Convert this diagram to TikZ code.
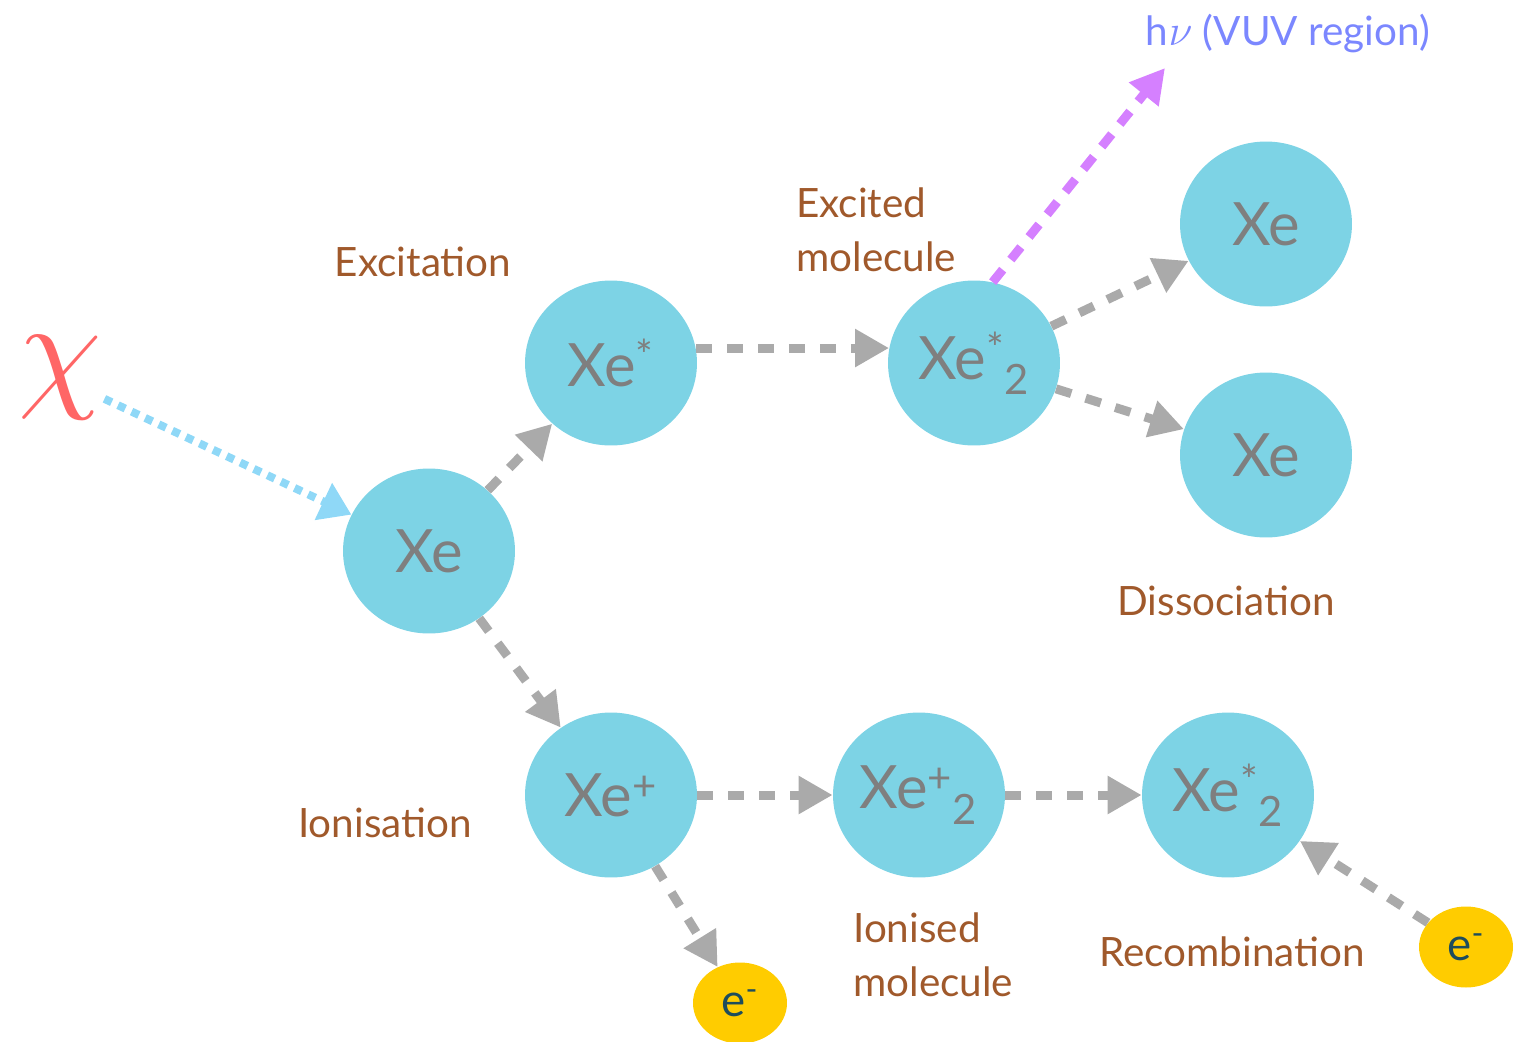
\documentclass[tikz,border=0pt]{standalone}
\usepackage{fontspec}
\setmainfont{Lato}
\usepackage{xcolor}
\usepackage{tikz}
\usetikzlibrary{arrows.meta,positioning,shapes.geometric}
\definecolor{atomcyan}{HTML}{7DD3E5}
\definecolor{atomgrey}{HTML}{7F7F7F}
\definecolor{edgegrey}{HTML}{AAAAAA}
\definecolor{labelbrown}{HTML}{A0592B}
\definecolor{photonviolet}{HTML}{D580FF}
\definecolor{hvblue}{HTML}{7B87FF}
\definecolor{chired}{HTML}{FF6666}
\definecolor{dotblue}{HTML}{8FD8F7}
\definecolor{eyellow}{HTML}{FFCC00}
\definecolor{eteal}{HTML}{1E4D5C}

\begin{document}
\begin{tikzpicture}[
  x=0.02cm, y=-0.02cm,
  atomnode/.style={ellipse, fill=atomcyan, text=atomgrey, inner sep=0pt,
    minimum width=3.44cm, minimum height=3.3cm,
    font=\fontsize{34}{40}\selectfont},
  electronnode/.style={ellipse, fill=eyellow, text=eteal, inner sep=0pt,
    minimum width=1.88cm, minimum height=1.62cm,
    font=\fontsize{26}{30}\selectfont},
  processlabel/.style={text=labelbrown, inner sep=0pt, align=left,
    font=\fontsize{23}{30.6}\selectfont},
  decayedge/.style={-{Triangle[length=0.68cm, width=0.72cm]}, edgegrey,
    line width=0.18cm, dash pattern=on 0.32cm off 0.3cm},
  photonedge/.style={-{Triangle[length=0.68cm, width=0.72cm]}, photonviolet,
    line width=0.18cm, dash pattern=on 0.32cm off 0.26cm},
  incomingedge/.style={-{Triangle[length=0.62cm, width=0.78cm]}, dotblue,
    line width=0.16cm, dash pattern=on 0.16cm off 0.14cm}
]
\useasboundingbox (0,0) rectangle (1526,1042);
% ---------------- atoms and molecules ----------------
\node[atomnode] (xe) at (429,551) {Xe};
\node[atomnode] (xestar) at (611,363) {Xe\textsuperscript{*}};
\node[atomnode] (xedimer) at (974,363) {Xe\textsuperscript{*}\textsubscript{2}};
\node[atomnode] (xetop) at (1266,224) {Xe};
\node[atomnode] (xemid) at (1266,455) {Xe};
\node[atomnode] (xeplus) at (611,795) {Xe\textsuperscript{+}};
\node[atomnode] (xeplusdimer) at (919,795) {Xe\textsuperscript{+}\textsubscript{2}};
\node[atomnode] (xestarbot) at (1228,795) {Xe\textsuperscript{*}\textsubscript{2}};
\node[electronnode] (ebot) at (740,1003) {e\textsuperscript{-}};
\node[electronnode] (eright) at (1466,947) {e\textsuperscript{-}};
% ---------------- incoming particle and photon ----------------
\node[text=chired, inner sep=0pt, scale=7.6] (chi) at (60,378) {$\chi$};
\node[text=hvblue, inner sep=0pt, font=\fontsize{23}{27}\selectfont] (hv) at (1288,34) {h$\nu$ (VUV region)};
\coordinate (photonend) at (1165,68);
% ---------------- process labels ----------------
\node[processlabel] (excitation) at (423,262) {Excitation};
\node[processlabel, anchor=west] (excited) at (796,230) {Excited\\molecule};
\node[processlabel] (dissociation) at (1226,601) {Dissociation};
\node[processlabel] (ionisation) at (385,823) {Ionisation};
\node[processlabel, anchor=west] (ionised) at (853,955) {Ionised\\molecule};
\node[processlabel] (recombination) at (1232,952) {Recombination};
% ---------------- connectors ----------------
\draw[incomingedge] (chi) -- (xe);
\draw[decayedge] (xe) -- (xestar);
\draw[decayedge] (xe) -- (xeplus);
\draw[decayedge] (xestar.10) -- (xedimer.170);
\draw[decayedge] (xedimer) -- (xetop);
\draw[decayedge] (xedimer) -- (xemid);
\draw[photonedge] (xedimer.77) -- (photonend);
\draw[decayedge] (xeplus) -- (xeplusdimer);
\draw[decayedge] (xeplusdimer) -- (xestarbot);
\draw[decayedge] (xeplus) -- (ebot);
\draw[decayedge] (eright) -- (xestarbot);
\end{tikzpicture}
\end{document}
